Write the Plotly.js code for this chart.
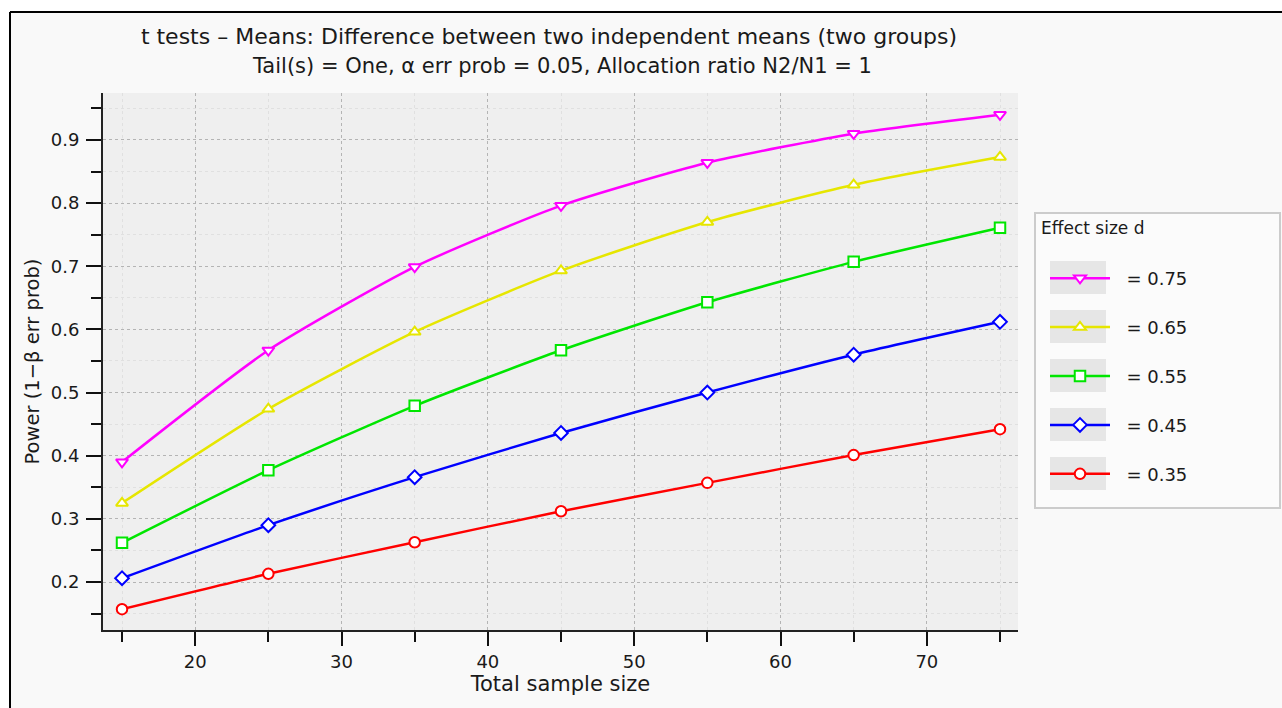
<!DOCTYPE html>
<html>
<head>
<meta charset="utf-8">
<script src="https://cdn.plot.ly/plotly-3.0.1.min.js"></script>
<style>html,body{margin:0;padding:0;background:#fff;}#chart{width:1282px;height:708px;}</style>
</head>
<body>
<div id="chart"></div>
<script>
// ---- data ----
const sampleSize = [15, 25, 35, 45, 55, 65, 75];
const effectLabels = ["\u00a0\u00a0= 0.75", "\u00a0\u00a0= 0.65", "\u00a0\u00a0= 0.55", "\u00a0\u00a0= 0.45", "\u00a0\u00a0= 0.35"];
const power075 = [0.390, 0.567, 0.699, 0.796, 0.864, 0.910, 0.940];
const power065 = [0.325, 0.474, 0.596, 0.693, 0.770, 0.829, 0.873];
const power055 = [0.262, 0.377, 0.479, 0.567, 0.643, 0.707, 0.761];
const power045 = [0.206, 0.290, 0.366, 0.436, 0.500, 0.560, 0.612];
const power035 = [0.157, 0.213, 0.263, 0.312, 0.357, 0.401, 0.442];
const seriesValues = [power075, power065, power055, power045, power035];
const seriesColors = ["#ff00ff", "#e6e600", "#00e600", "#0000ff", "#ff0000"];
const seriesSymbols = ["triangle-down", "triangle-up", "square", "diamond", "circle"];

const FONT = "DejaVu Sans, Verdana, sans-serif";
const TXT = "#1a1a1a";

const traces = seriesValues.map((vals, i) => ({
  type: "scatter",
  mode: "lines+markers",
  x: sampleSize,
  y: vals,
  name: effectLabels[i],
  legendgroup: "g" + i,
  line: {color: seriesColors[i], width: 2.5, shape: "spline", smoothing: 0.6},
  marker: {symbol: seriesSymbols[i], size: 10.5, color: "#ffffff",
           line: {color: seriesColors[i], width: 2}}
}));

// plot-area pixel geometry helpers (for decorations only)
const W = 1282, H = 708, L = 103, R = 1018, T = 93, B = 630;
const px = v => (v - L) / (R - L);
const py = v => (B - v) / (B - T);

const shapes = [];
// white strips and black frame edges of the window
shapes.push({type: "rect", xref: "paper", yref: "paper", x0: px(-5), x1: px(W + 5), y0: py(11), y1: py(-5), fillcolor: "#ffffff", line: {width: 0}});
shapes.push({type: "rect", xref: "paper", yref: "paper", x0: px(-5), x1: px(9), y0: py(H + 5), y1: py(-5), fillcolor: "#ffffff", line: {width: 0}});
shapes.push({type: "line", xref: "paper", yref: "paper", x0: px(10), x1: px(W + 5), y0: py(12), y1: py(12), line: {color: "#000", width: 2}});
shapes.push({type: "line", xref: "paper", yref: "paper", x0: px(10), x1: px(10), y0: py(12), y1: py(H + 5), line: {color: "#000", width: 2}});
// legend box
shapes.push({type: "rect", xref: "paper", yref: "paper", x0: px(1035), x1: px(1280), y0: py(508), y1: py(213), fillcolor: "#fbfbfb", line: {color: "#cccccc", width: 2}});
// legend swatch backgrounds
const itemCenters = [278, 327, 376, 425, 474];
itemCenters.forEach(c => shapes.push({type: "rect", xref: "paper", yref: "paper", x0: px(1050), x1: px(1106), y0: py(c + 16), y1: py(c - 17), fillcolor: "#e6e6e6", line: {width: 0}}));

const layout = {
  width: W, height: H,
  margin: {l: L, r: W - R, t: T, b: H - B, pad: 0},
  paper_bgcolor: "#f9f9f9",
  plot_bgcolor: "#efefef",
  font: {family: FONT, size: 18, color: TXT},
  title: {text: "t tests – Means: Difference between two independent means (two groups)",
          font: {family: FONT, size: 22, color: TXT},
          xref: "paper", x: px(549), xanchor: "center",
          yref: "container", y: 1 - 36 / H, yanchor: "middle"},
  annotations: [
    {text: "Tail(s) = One, α err prob = 0.05, Allocation ratio N2/N1 = 1", xref: "paper", yref: "paper",
     x: px(562), y: py(66), xanchor: "center", yanchor: "middle", showarrow: false,
     font: {family: FONT, size: 21, color: TXT}},
    {text: "Effect size d", xref: "paper", yref: "paper", x: px(1039), y: py(228), xanchor: "left", yanchor: "middle",
     showarrow: false, font: {family: FONT, size: 17, color: TXT}}
  ],
  xaxis: {
    range: [13.7, 76.23], tick0: 10, dtick: 10, ticks: "outside", ticklen: 14, tickwidth: 2, tickcolor: "#111",
    showline: true, linecolor: "#222", linewidth: 2, zeroline: false,
    showgrid: true, gridcolor: "#b4b4b4", griddash: "3px,3px", gridwidth: 1,
    minor: {dtick: 10, tick0: 15, ticks: "outside", ticklen: 10, tickwidth: 2, tickcolor: "#111", showgrid: true, gridcolor: "#e0e0e0", gridwidth: 1},
    tickfont: {family: FONT, size: 18, color: TXT},
    title: {text: "Total sample size", font: {family: FONT, size: 21, color: TXT}, standoff: 3}
  },
  yaxis: {
    range: [0.124, 0.9744], tick0: 0, dtick: 0.1, ticks: "outside", ticklen: 15, tickwidth: 2, tickcolor: "#111",
    showline: true, linecolor: "#222", linewidth: 2, zeroline: false, ticklabelstandoff: 3,
    showgrid: true, gridcolor: "#b4b4b4", griddash: "3px,3px", gridwidth: 1,
    minor: {dtick: 0.1, tick0: 0.05, ticks: "outside", ticklen: 10, tickwidth: 2, tickcolor: "#111", showgrid: true, gridcolor: "#e0e0e0", gridwidth: 1},
    tickfont: {family: FONT, size: 18, color: TXT},
    title: {text: "Power (1−β err prob)", font: {family: FONT, size: 19.5, color: TXT}, standoff: 6}
  },
  showlegend: true,
  legend: {x: px(1045), y: py(260), xanchor: "left", yanchor: "top", bgcolor: "rgba(0,0,0,0)",
           borderwidth: 0, font: {family: FONT, size: 18, color: TXT}, traceorder: "grouped",
           tracegroupgap: 22.5, itemwidth: 60}
  ,shapes: shapes
};

Plotly.newPlot("chart", traces, layout, {displayModeBar: false, staticPlot: true});
</script>
</body>
</html>
